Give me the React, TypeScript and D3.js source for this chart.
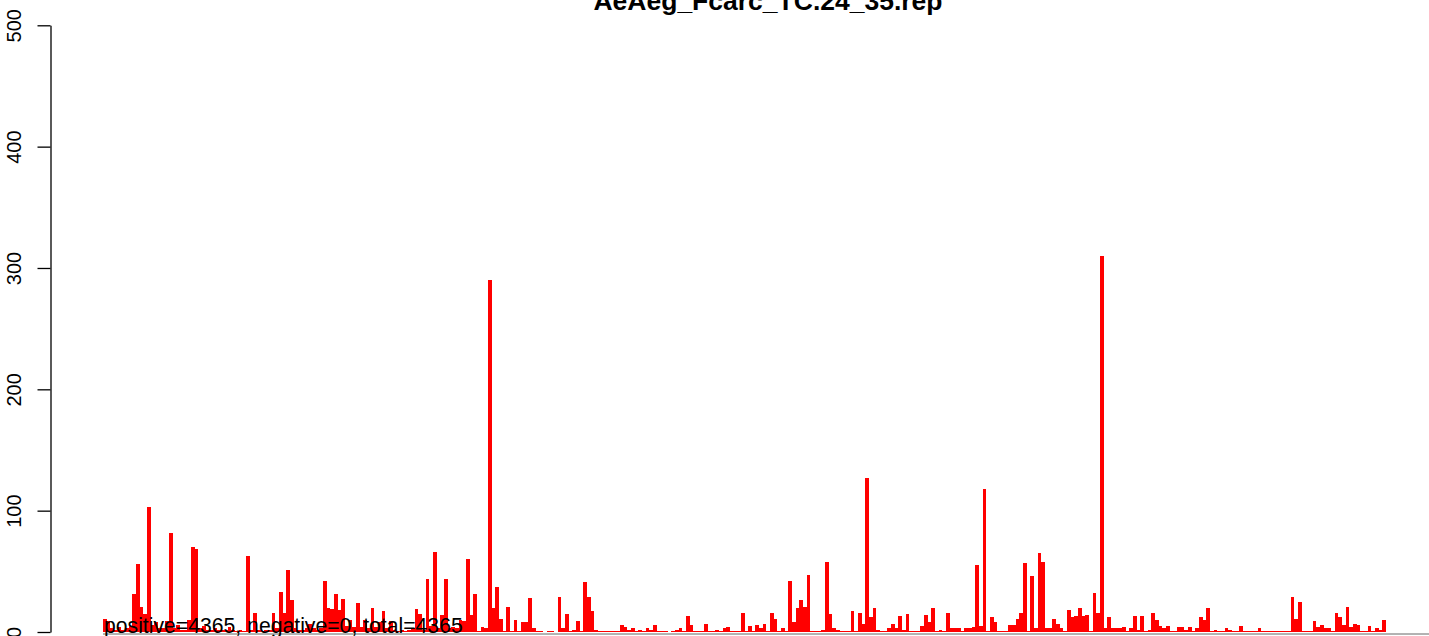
import React, { useEffect, useRef } from 'react';
import * as d3 from 'd3';

const chartTitle = 'AeAeg_Fcarc_TC.24_35.rep';
const summaryText = 'positive=4365, negative=0, total=4365';
const yTicks = [0, 100, 200, 300, 400, 500];

// one value per bar, left to right
const counts = [
  11, 9, 3, 2, 4, 2, 3, 5, 31, 56,
  21, 15, 103, 6, 8, 3, 3, 9, 82, 3,
  6, 2, 2, 10, 70, 68, 3, 5, 2, 2,
  3, 2, 2, 2, 4, 2, 1, 2, 1, 63,
  2, 16, 2, 1, 2, 2, 16, 3, 33, 16,
  51, 26, 3, 2, 2, 3, 7, 3, 2, 3,
  42, 20, 19, 31, 18, 27, 5, 10, 4, 24,
  4, 10, 3, 20, 4, 8, 17, 3, 9, 2,
  1, 2, 1, 2, 3, 19, 15, 2, 44, 5,
  66, 3, 14, 44, 3, 4, 3, 10, 9, 60,
  14, 31, 1, 4, 3, 290, 20, 37, 11, 1,
  21, 1, 10, 1, 8, 8, 28, 3, 1, 1,
  0, 1, 1, 0, 29, 3, 15, 1, 2, 9,
  1, 41, 29, 17, 2, 1, 0.5, 0.5, 1, 0.5,
  1, 6, 4, 2, 3, 1, 2, 1, 3, 2,
  6, 1, 1, 1, 0, 0.5, 2, 3, 1, 13,
  6, 0.5, 0.5, 0.5, 7, 1, 1, 2, 0.5, 3,
  4, 1, 1, 0.5, 16, 1, 5, 1, 6, 3,
  7, 1, 16, 11, 1, 3, 1, 42, 8, 20,
  26, 21, 47, 0.5, 1, 0.5, 2, 58, 15, 3,
  2, 1, 1, 1, 17, 1, 16, 7, 127, 12,
  20, 2, 1, 1, 3, 7, 3, 13, 2, 15,
  1, 0.5, 0.5, 5, 14, 8, 20, 1, 2, 1,
  16, 3, 3, 3, 0.5, 3, 3, 4, 55, 5,
  118, 1, 12, 8, 1, 0.5, 0.5, 6, 6, 11,
  16, 57, 0.5, 46, 3, 65, 58, 3, 3, 11,
  7, 3, 1, 18, 12, 13, 20, 13, 14, 1,
  32, 16, 310, 3, 12, 3, 3, 3, 4, 1,
  3, 13, 2, 13, 1, 2, 16, 10, 5, 3,
  5, 1, 1, 4, 4, 2, 4, 1, 3, 12,
  10, 20, 1, 2, 1, 1, 3, 2, 0.5, 1,
  5, 1, 0.5, 1, 1, 3, 1, 1, 1, 1,
  0.5, 0.5, 1, 1, 29, 11, 25, 0.5, 0.5, 0.5,
  9, 4, 6, 3, 3, 0.5, 16, 12, 6, 21,
  4, 7, 6, 1, 1, 5, 1, 3, 2, 10,
];
const positions = counts.map((_, i) => i);

const font = '"Liberation Sans", Arial, Helvetica, sans-serif';

const App: React.FC = () => {
  const svgRef = useRef<SVGSVGElement>(null);

  useEffect(() => {
    if (!svgRef.current) return;

    const width = 1429;
    const height = 636;
    const svg = d3.select(svgRef.current)
      .attr('width', width)
      .attr('height', height);
    svg.selectAll('*').remove();

    const x = d3.scaleBand<number>()
      .domain(positions)
      .range([103, 1386])
      .padding(0);

    const y = d3.scaleLinear()
      .domain([0, 500])
      .range([632, 25.3]);

    // baseline under the bars
    svg.append('line')
      .attr('x1', 103)
      .attr('x2', width)
      .attr('y1', 634)
      .attr('y2', 634)
      .attr('stroke', '#666')
      .attr('stroke-width', 1);

    // bars, snapped to whole pixels so neighbours touch
    const left = (i: number) => Math.round(x(i) as number);
    const right = (i: number) => Math.round((x(i) as number) + x.bandwidth());
    svg.append('g')
      .attr('shape-rendering', 'crispEdges')
      .selectAll('rect')
      .data(counts)
      .join('rect')
      .attr('x', (_, i) => left(i))
      .attr('width', (_, i) => right(i) - left(i))
      .attr('y', d => y(d))
      .attr('height', d => y(0) - y(d))
      .attr('fill', '#ff0000');

    // Y axis
    const yAxis = svg.append('g')
      .attr('transform', 'translate(50.5,0)')
      .call(d3.axisLeft(y).tickValues(yTicks).tickSize(13).tickSizeOuter(0).tickFormat(d3.format('d')));
    yAxis.select('.domain').attr('stroke', '#000').attr('stroke-width', 1.3);
    yAxis.selectAll('.tick line').attr('stroke', '#000').attr('stroke-width', 1.3);
    yAxis.selectAll('.tick text')
      .attr('x', 0)
      .attr('y', 0)
      .attr('dy', null)
      .attr('transform', 'translate(-29.5,0) rotate(-90)')
      .attr('text-anchor', 'middle')
      .attr('fill', '#000')
      .style('font-family', font)
      .style('font-size', '20px');

    // title
    svg.append('text')
      .attr('x', 768)
      .attr('y', 10)
      .attr('text-anchor', 'middle')
      .style('font-family', font)
      .style('font-size', '26.5px')
      .style('font-weight', 'bold')
      .text(chartTitle);

    // summary line over the bars
    svg.append('text')
      .attr('x', 104)
      .attr('y', 633)
      .style('font-family', font)
      .style('font-size', '21.2px')
      .attr('fill', '#000')
      .text(summaryText);
  }, []);

  return (
    <svg ref={svgRef} style={{ position: 'absolute', left: 0, top: 0, background: '#fff' }}></svg>
  );
};

export default App;
